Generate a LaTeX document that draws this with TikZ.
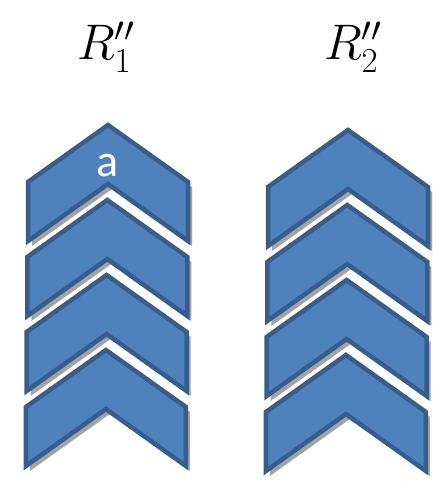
\RequirePackage{fix-cm}
\documentclass[tikz,border=0pt]{standalone}
\usepackage{fontspec}
\usepackage{xcolor}
\newfontfamily\labelfont{Carlito}
\usetikzlibrary{positioning}
\definecolor{chevfill}{HTML}{4F81BD}
\definecolor{chevline}{HTML}{385D8A}
\definecolor{chevshade}{HTML}{A3A3A3}

\begin{document}
\begin{tikzpicture}[x=1pt, y=-1pt,
  chevbody/.style={fill=chevfill, draw=chevline, line width=4.5pt, line join=miter},
  chevshadow/.style={fill=chevshade},
  chevron/.pic={
    \fill[chevshadow, shift={(4,5)}] (0,0) -- (80,57) -- (80,116) -- (0,59) -- (-80,116) -- (-80,57) -- cycle;
    \filldraw[chevbody] (0,0) -- (80,57) -- (80,116) -- (0,59) -- (-80,116) -- (-80,57) -- cycle;
  },
  head/.style={font=\fontsize{50}{60}\selectfont, anchor=base},
  letter/.style={text=white, font=\labelfont\fontsize{46}{50}\selectfont, inner sep=0pt}
]
  \useasboundingbox (0,0) rectangle (443,481);

  % column titles
  \node[head] (r1) at (106,60) {$R''_1$};
  \node[head] (r2) at (353,60) {$R''_2$};

  % two stacks of chevrons
  \foreach \k in {0,...,3} {
    \pic at (108-0.7*\k, 125+75*\k) {chevron};
    \pic at (348-0.7*\k, 130+75*\k) {chevron};
  }

  \node[letter] (a) at (108,165) {a};
\end{tikzpicture}
\end{document}
